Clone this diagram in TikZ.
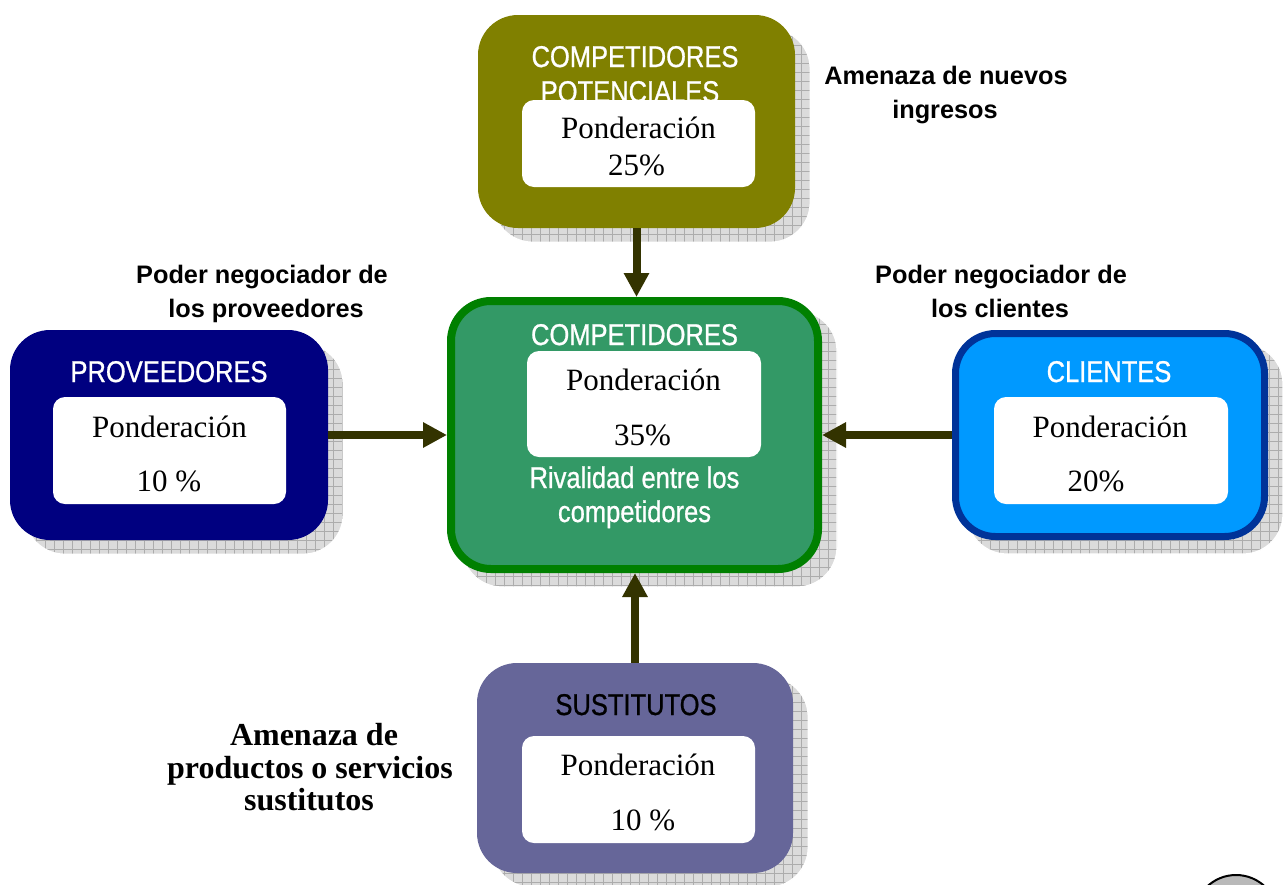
\documentclass[tikz,border=0pt]{standalone}
\usepackage{fontspec}
\setmainfont{Liberation Serif}
\newfontfamily\nar[FakeStretch=0.85,FakeBold=0.8]{Liberation Sans}
\newfontfamily\lab{Liberation Sans}
\usetikzlibrary{arrows.meta,backgrounds}
\definecolor{olivebox}{HTML}{808000}
\definecolor{greenfill}{HTML}{339966}
\definecolor{greenline}{HTML}{008000}
\definecolor{navybox}{HTML}{000080}
\definecolor{skyfill}{HTML}{0099FF}
\definecolor{skyline}{HTML}{003399}
\definecolor{lilac}{HTML}{666699}
\definecolor{arrowc}{HTML}{333300}
\tikzset{
  mainbox/.style={rounded corners=40pt, inner sep=0pt, draw=none},
  whitebox/.style={rounded corners=12pt, inner sep=0pt, fill=white, minimum width=233pt},
  captext/.style={inner sep=0pt, anchor=base, text=white, font=\nar\fontsize{30}{34}\selectfont},
  pond/.style={inner sep=0pt, anchor=base, font=\fontsize{31}{35}\selectfont},
  sanslab/.style={inner sep=0pt, anchor=base, font=\lab\bfseries\fontsize{25.3}{30}\selectfont},
  seriflab/.style={inner sep=0pt, anchor=base, font=\bfseries\fontsize{32}{35}\selectfont},
  arr/.style={draw=arrowc, line width=8pt, -{Triangle[width=24pt,length=24pt]}, arrowc},
}
\newcommand\boxshadow[1]{%
  \begin{scope}
    \clip[rounded corners=40pt] ([shift={(15pt,-14pt)}]#1.south west) rectangle ([shift={(15pt,-14pt)}]#1.north east);
    \fill[gray!28] ([shift={(15pt,-14pt)}]#1.south west) rectangle ([shift={(15pt,-14pt)}]#1.north east);
    \draw[gray!65, line width=0.6pt, step=9pt] ([shift={(15pt,-14pt)}]#1.south west) grid ([shift={(15pt,-14pt)}]#1.north east);
  \end{scope}
  \draw[white, line width=1.2pt, rounded corners=40pt] ([shift={(15pt,-14pt)}]#1.south west) rectangle ([shift={(15pt,-14pt)}]#1.north east);
}
\begin{document}
\begin{tikzpicture}[x=1pt,y=-1pt]
\clip (0,0) rectangle (1283,884);

% main boxes
\node[mainbox, fill=olivebox, minimum width=317pt, minimum height=213pt] (pot) at (636.5,121.5) {};
\node[mainbox, fill=greenfill, draw=greenline, line width=8pt, minimum width=367pt, minimum height=268pt] (ctr) at (634.5,435) {};
\node[mainbox, fill=navybox, minimum width=318pt, minimum height=210pt] (prov) at (169,435) {};
\node[mainbox, fill=skyfill, draw=skyline, line width=7pt, minimum width=309pt, minimum height=203pt] (cli) at (1110,435) {};
\node[mainbox, fill=lilac, minimum width=316pt, minimum height=210pt] (sus) at (635,768) {};

\begin{pgfonlayer}{background}
  \fill[white] (0,0) rectangle (1283,884);
  \boxshadow{pot}
  \boxshadow{ctr}
  \boxshadow{prov}
  \boxshadow{cli}
  \boxshadow{sus}
\end{pgfonlayer}

% top box
\node[captext] (potA) at (635,67) {COMPETIDORES};
\node[captext] (potB) at (630,102) {POTENCIALES};
\node[whitebox, minimum height=87pt] (potW) at (638.5,143.5) {};
\node[pond] (potP) at (638.5,138) {Ponderación};
\node[pond] (potV) at (636.5,175) {25\%};

% centre box
\node[captext] (ctrA) at (634.5,345) {COMPETIDORES};
\node[whitebox, minimum width=234pt, minimum height=106pt] (ctrW) at (644,404) {};
\node[pond] (ctrP) at (643.5,390) {Ponderación};
\node[pond] (ctrV) at (642.5,445) {35\%};
\node[captext] (ctrR1) at (634.5,488) {Rivalidad entre los};
\node[captext] (ctrR2) at (634.5,522) {competidores};

% left box
\node[captext] (provA) at (169,382) {PROVEEDORES};
\node[whitebox, minimum height=107pt] (provW) at (169.5,450.5) {};
\node[pond] (provP) at (169.5,437) {Ponderación};
\node[pond] (provV) at (169,491) {10 \%};

% right box
\node[captext] (cliA) at (1109,382) {CLIENTES};
\node[whitebox, minimum width=234pt, minimum height=107pt] (cliW) at (1111,450.5) {};
\node[pond] (cliP) at (1110,437) {Ponderación};
\node[pond] (cliV) at (1096,491) {20\%};

% bottom box
\node[captext, text=black] (susA) at (636,715) {SUSTITUTOS};
\node[whitebox, minimum height=107pt] (susW) at (638.5,789.5) {};
\node[pond] (susP) at (638,775) {Ponderación};
\node[pond] (susV) at (643,830) {10 \%};

% arrows
\draw[arr] (pot.south) -- (pot.south |- ctr.north);
\draw[arr] (prov.east) -- (ctr.west);
\draw[arr] (cli.west) -- (ctr.east);
\draw[arr] (sus.north) -- (sus.north |- ctr.south);

% labels
\node[sanslab] (l1a) at (946,84) {Amenaza de nuevos};
\node[sanslab] (l1b) at (945,118) {ingresos};
\node[sanslab] (l2a) at (262,283) {Poder negociador de};
\node[sanslab] (l2b) at (266,317) {los proveedores};
\node[sanslab] (l3a) at (1001,283) {Poder negociador de};
\node[sanslab] (l3b) at (1000,317) {los clientes};
\node[seriflab] (l4a) at (314,745) {Amenaza de};
\node[seriflab] (l4b) at (310,778) {productos o servicios};
\node[seriflab] (l4c) at (309,810) {sustitutos};

% partial round button, bottom right
\fill[gray!55] (1236,917) circle (42);
\fill[gray!25] (1236,921) circle (36);
\draw[black, line width=2pt] (1236,917) circle (42);
\end{tikzpicture}
\end{document}
